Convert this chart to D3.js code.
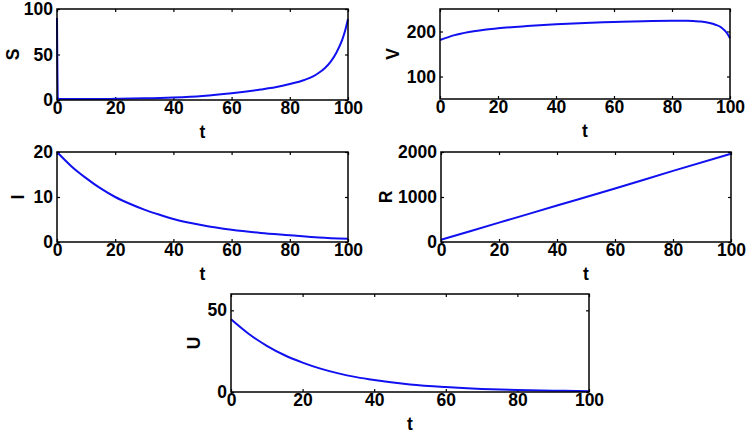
<!DOCTYPE html>
<html><head><meta charset="utf-8">
<script src="https://cdn.jsdelivr.net/npm/d3@7"></script>
<style>
body{margin:0;background:#fff;}
text{font-family:"Liberation Sans",Arial,sans-serif;font-weight:bold;fill:#000;}
</style></head>
<body><svg id="c" width="749" height="434"></svg>
<script>
const tTicks = [0,20,40,60,80,100];

const sT = [0,0.3,10,20,30,40,50,60,70,75,80,85,88,90,92,94,96,98,99,100];
const sV = [90,1,1,1.3,1.8,2.8,4.5,7.5,11.5,14,17.5,22,26,30,35,42,52,66,76,89];

const vT = [0,5,10,20,30,40,50,60,70,80,85,88,90,93,95,97,99,100];
const vV = [181,192,199,207,212,216,219,221,223,224,224,223,222,219,215,209,196,185];

const iT = [0,5,10,15,20,25,30,35,40,50,60,70,80,90,100];
const iV = [20,16.8,14.2,11.9,10.0,8.5,7.2,6.1,5.1,3.7,2.7,2.0,1.5,1.0,0.7];

const rT = [0,20,40,60,80,100];
const rV = [50,430,810,1190,1580,1960];

const uT = [0,5,10,15,20,25,30,35,40,50,60,70,80,90,100];
const uV = [44.5,35.5,28.3,22.5,18,14.3,11.4,9.1,7.3,4.6,3.0,1.9,1.2,0.8,0.5];

const panels = [
  {name:"S", t:sT, v:sV, dom:[0,100], yt:[0,50,100], box:[57,9,348,100], lx:13},
  {name:"V", t:vT, v:vV, dom:[50,250], yt:[100,200], box:[440,9,730,99], lx:393},
  {name:"I", t:iT, v:iV, dom:[0,20], yt:[0,10,20], box:[57,152,348,242], lx:18},
  {name:"R", t:rT, v:rV, dom:[0,2000], yt:[0,1000,2000], box:[441,152,731,242], lx:386},
  {name:"U", t:uT, v:uV, dom:[0,60], yt:[0,50], box:[231,294,589,392], lx:194}
];

const FS = "17.5px";
const svg = d3.select("#c");
panels.forEach(p => {
  const [x0,y0,x1,y1] = p.box;
  const x = d3.scaleLinear().domain([0,100]).range([x0,x1]);
  const y = d3.scaleLinear().domain(p.dom).range([y1,y0]);
  const g = svg.append("g");
  const style = sel => {
    sel.select(".domain").remove();
    sel.selectAll(".tick line").attr("stroke","#000").attr("stroke-width",1.2);
    sel.selectAll("text").style("font-size",FS).style("font-family","Liberation Sans, Arial, sans-serif").style("font-weight","bold").attr("fill","#000");
  };
  g.append("g").attr("transform",`translate(0,${y1})`)
    .call(d3.axisBottom(x).tickValues(tTicks).tickFormat(d3.format("d")).tickSize(-3).tickPadding(2)).call(style);
  g.append("g").attr("transform",`translate(0,${y0})`)
    .call(d3.axisTop(x).tickValues(tTicks).tickSize(-3).tickFormat("")).call(style);
  g.append("g").attr("transform",`translate(${x0},0)`)
    .call(d3.axisLeft(y).tickValues(p.yt).tickFormat(d3.format("d")).tickSize(-3).tickPadding(4)).call(style);
  g.append("g").attr("transform",`translate(${x1},0)`)
    .call(d3.axisRight(y).tickValues(p.yt).tickSize(-3).tickFormat("")).call(style);

  const line = d3.line().x((d,i)=>x(p.t[i])).y(d=>y(d)).curve(d3.curveMonotoneX);
  g.append("path").datum(p.v).attr("d",line).attr("fill","none")
    .attr("stroke","#1010f0").attr("stroke-width",2);

  g.append("rect").attr("x",x0).attr("y",y0).attr("width",x1-x0).attr("height",y1-y0)
    .attr("fill","none").attr("stroke","#000").attr("stroke-width",1.5);

  g.append("text").attr("x",(x0+x1)/2).attr("y",y1+38).attr("text-anchor","middle")
    .style("font-size",FS).text("t");
  g.append("text").attr("transform",`translate(${p.lx},${(y0+y1)/2}) rotate(-90)`)
    .attr("text-anchor","middle").attr("dy","0.35em").style("font-size",FS).text(p.name);
});
</script></body></html>
